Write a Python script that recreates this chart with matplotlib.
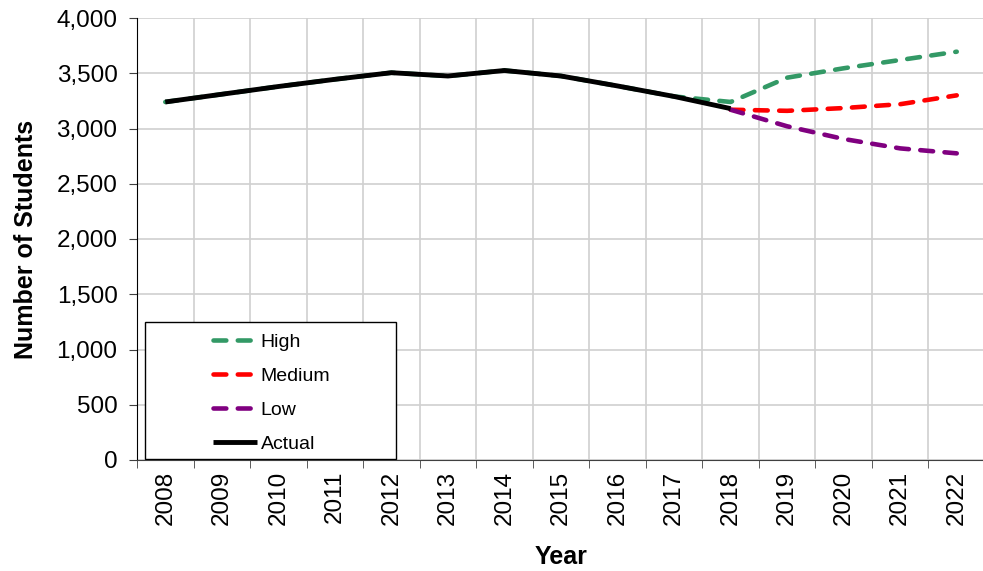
import numpy as np
import matplotlib.pyplot as plt
from matplotlib.patches import Rectangle
from matplotlib.ticker import FuncFormatter, MultipleLocator

plt.rcParams['font.family'] = ['Liberation Sans', 'DejaVu Sans']

years = [str(y) for y in range(2008, 2023)]
actual = [3240, 3310, 3380, 3445, 3505, 3475, 3525, 3475, 3385, 3290, 3180]
high = [3240, 3310, 3380, 3445, 3505, 3475, 3525, 3475, 3385, 3290, 3240, 3460, 3545, 3620, 3695]
medium = [None] * 10 + [3170, 3160, 3185, 3220, 3300]
low = [None] * 10 + [3170, 3020, 2905, 2820, 2775]

x = np.arange(len(years))


def arr(vals):
    return [np.nan if v is None else v for v in vals]


fig = plt.figure(figsize=(9.83, 5.71), dpi=100)
ax = fig.add_axes([137 / 983, 111 / 571, 848 / 983, 442 / 571])

dash = dict(lw=3.3, dashes=(2.8, 2.5), dash_capstyle='round')
ax.plot(x, arr(high), color='#339966', label='High', **dash)
ax.plot(x, arr(medium), color='#ff0000', label='Medium', **dash)
ax.plot(x, arr(low), color='#800080', label='Low', **dash)
ax.plot(x[:len(actual)], actual, color='black', lw=3.5, solid_capstyle='butt', label='Actual')

ax.set_xlim(-0.5, len(years) - 0.5)
ax.set_ylim(0, 4000)
ax.yaxis.set_major_locator(MultipleLocator(500))
ax.yaxis.set_major_formatter(FuncFormatter(lambda v, p: f'{int(v):,}'))

ax.set_xticks(x)
ax.set_xticklabels(years, rotation=90)
ax.set_xticks(np.arange(-0.5, len(years), 1), minor=True)
ax.tick_params(axis='x', which='major', length=0, pad=8, labelsize=17.5)
ax.tick_params(axis='x', which='minor', length=6, direction='out', color='#404040')
ax.tick_params(axis='y', length=6, direction='out', labelsize=17.5, pad=8, color='#404040')

ax.grid(axis='y', color='#d0d0d0', lw=1.2)
ax.grid(axis='x', which='minor', color='#d0d0d0', lw=1.2)
ax.set_axisbelow(True)
for s in ['top', 'right']:
    ax.spines[s].set_visible(False)
ax.spines['left'].set_color('black')
ax.spines['bottom'].set_color('#404040')

ax.set_xlabel('Year', fontsize=18, fontweight='bold')
ax.set_ylabel('Number of Students', fontsize=18, fontweight='bold')
ax.xaxis.set_label_coords(424 / 848, -85 / 442)
ax.yaxis.set_label_coords(-99 / 848, 0.5)

box = Rectangle((8 / 848, 1 / 442), 251 / 848, 137 / 442, transform=ax.transAxes,
                facecolor='white', edgecolor='black', lw=1, zorder=4.5)
ax.add_patch(box)
leg = ax.legend(loc='upper left', bbox_to_anchor=(76 / 848, 127 / 442), frameon=False,
                fontsize=14, handlelength=2.25, handletextpad=0.2, labelspacing=0.85,
                borderpad=0, borderaxespad=0)
leg.set_zorder(5)

fig.savefig('out.png', dpi=100)
